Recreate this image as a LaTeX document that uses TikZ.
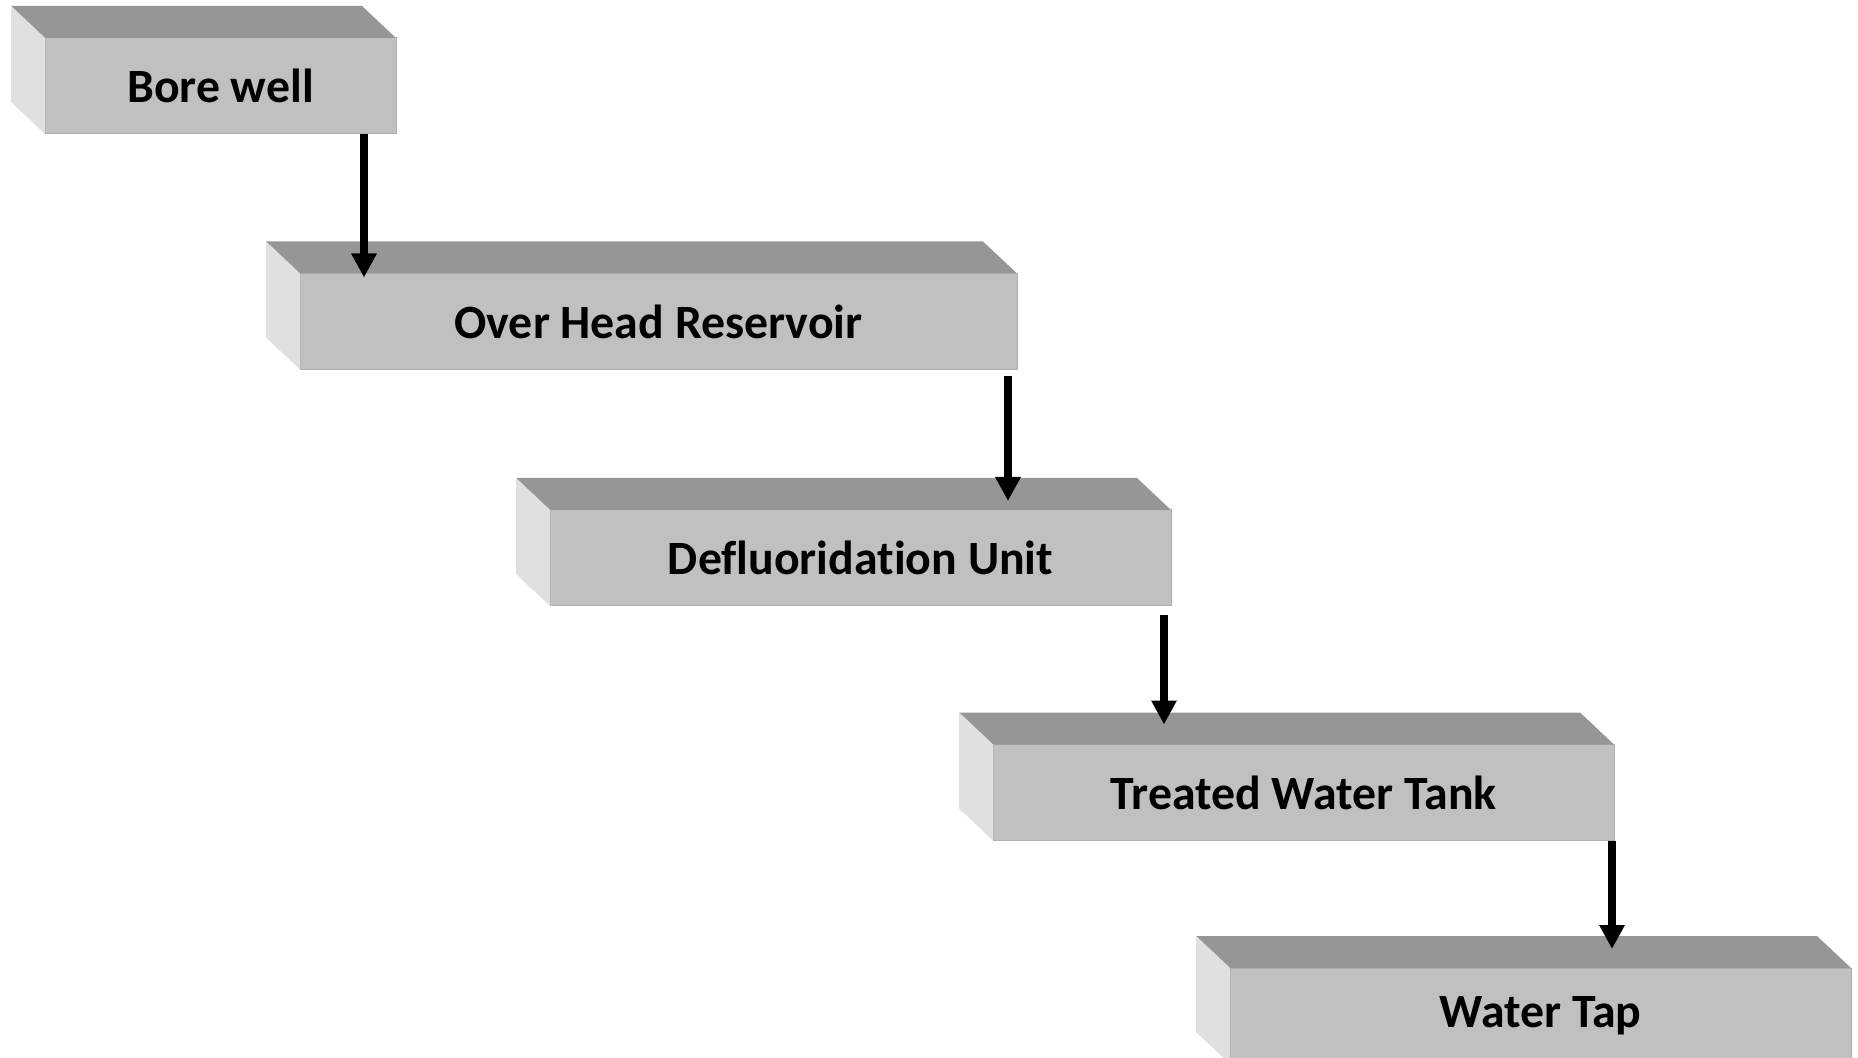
\documentclass[tikz,border=0pt]{standalone}
\usepackage{fontspec}
\setmainfont[Ligatures=NoCommon]{Carlito}
\usetikzlibrary{arrows.meta,positioning,calc}
\definecolor{BoxTop}{RGB}{150,150,150}
\definecolor{BoxFront}{RGB}{192,192,192}
\definecolor{BoxSide}{RGB}{224,224,224}
\definecolor{BoxEdge}{RGB}{176,176,176}

\begin{document}
\begin{tikzpicture}[
  x=0.5pt,y=-0.5pt,
  box/.style={fill=BoxFront,draw=BoxEdge,line width=0.5pt,inner sep=0pt,outer sep=0pt,
              minimum height=48pt,font=\fontsize{23.9}{28}\selectfont\bfseries},
  topface/.style={fill=BoxTop},
  sideface/.style={fill=BoxSide},
  arrow/.style={-{Triangle[length=12pt,width=12pt]},line width=4pt,draw=black}
]
\useasboundingbox (0,0) rectangle (1858,1058);
% front faces
\node[box,minimum width=175.5pt] (bore) at (220.5,86) {Bore well};
\node[box,minimum width=358.5pt] (reservoir) at (658.5,321.5) {Over Head Reservoir};
\node[box,minimum width=310.5pt] (unit) at (860.5,558) {Defluoridation Unit};
\node[box,minimum width=310.5pt] (tank) at (1303.5,792.5) {Treated Water Tank};
\node[box,minimum width=310.5pt] (tap) at (1540.5,1016) {Water Tap};
% top and side faces
\foreach \n in {bore,reservoir,unit,tank,tap}{
  \fill[topface] (\n.north west) -- (\n.north east) -- ++(-34,-32) -- ($(\n.north west)+(-34,-32)$) -- cycle;
  \fill[sideface] (\n.north west) -- ++(-34,-32) -- ($(\n.south west)+(-34,-32)$) -- (\n.south west) -- cycle;
}
\draw[arrow] ($(bore.south east)+(-32,0)$) -- ($(bore.south east |- reservoir.north)+(-32,4)$);
\draw[arrow] ($(reservoir.south east)+(-9,7)$) -- ($(reservoir.south east |- unit.north)+(-9,-9)$);
\draw[arrow] ($(unit.south east)+(-7,9)$) -- ($(unit.south east |- tank.north)+(-7,-20)$);
\draw[arrow] ($(tank.south east)+(-2,0)$) -- ($(tank.south east |- tap.north)+(-2,-19)$);
\end{tikzpicture}
\end{document}
